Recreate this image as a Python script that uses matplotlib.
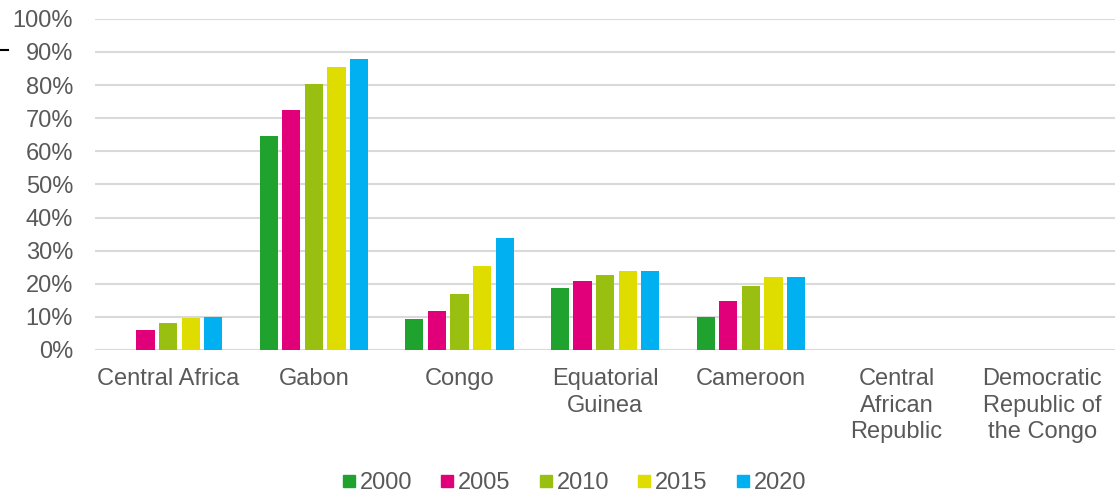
import matplotlib
matplotlib.use("Agg")
import matplotlib.pyplot as plt
import numpy as np
from matplotlib.lines import Line2D

plt.rcParams['font.family'] = ['Liberation Sans', 'DejaVu Sans']

categories = ["Central Africa", "Gabon", "Congo", "Equatorial\nGuinea", "Cameroon",
              "Central\nAfrican\nRepublic", "Democratic\nRepublic of\nthe Congo"]
years = ["2000", "2005", "2010", "2015", "2020"]
v2000 = [np.nan, 64.6, 9.4, 18.8, 10.0, np.nan, np.nan]
v2005 = [6.0, 72.5, 11.9, 20.9, 14.8, np.nan, np.nan]
v2010 = [8.2, 80.4, 16.9, 22.6, 19.4, np.nan, np.nan]
v2015 = [9.6, 85.5, 25.5, 23.7, 22.0, np.nan, np.nan]
v2020 = [10.0, 87.9, 33.7, 23.8, 22.1, np.nan, np.nan]
series = [v2000, v2005, v2010, v2015, v2020]
colors = ["#1fa22e", "#e2007a", "#99c010", "#dfdc00", "#00b0f0"]

FS = 17

fig = plt.figure(figsize=(11.15, 4.95), dpi=100)
ax = fig.add_axes([0.0855, 0.293, 0.9145, 0.669])

x = np.arange(len(categories))
step = 0.155
w = 0.125
for i, (vals, c, yr) in enumerate(zip(series, colors, years)):
    ax.bar(x + (i - 2) * step, vals, width=w, color=c, label=yr, zorder=3)

ax.set_xlim(-0.5, len(categories) - 0.5)
ax.set_ylim(0, 100)
ax.set_yticks(np.arange(0, 101, 10))
ax.set_yticklabels([f"{v}%" for v in range(0, 101, 10)])
ax.set_xticks(x)
ax.set_xticklabels(categories, linespacing=1.27)
ax.grid(axis='y', color='#d9d9d9', linewidth=1.5, zorder=0)
for s in ax.spines.values():
    s.set_visible(False)
ax.tick_params(axis='both', length=0, labelsize=FS, colors='#595959')
ax.tick_params(axis='y', pad=16)
ax.tick_params(axis='x', pad=13)

handles = [Line2D([0], [0], marker='s', linestyle='none', markersize=9,
                  markerfacecolor=c, markeredgecolor=c) for c in colors]
leg = fig.legend(handles, years, loc='center', bbox_to_anchor=(0.515, 0.024),
                 ncol=5, frameon=False, fontsize=FS, handletextpad=0.2,
                 columnspacing=1.2, handlelength=0.55, borderpad=0)
for t in leg.get_texts():
    t.set_color('#595959')

fig.add_artist(Line2D([0.0, 0.0075], [0.900, 0.900], color='black', linewidth=1.5,
                      transform=fig.transFigure))

fig.savefig("out.png", dpi=100)
